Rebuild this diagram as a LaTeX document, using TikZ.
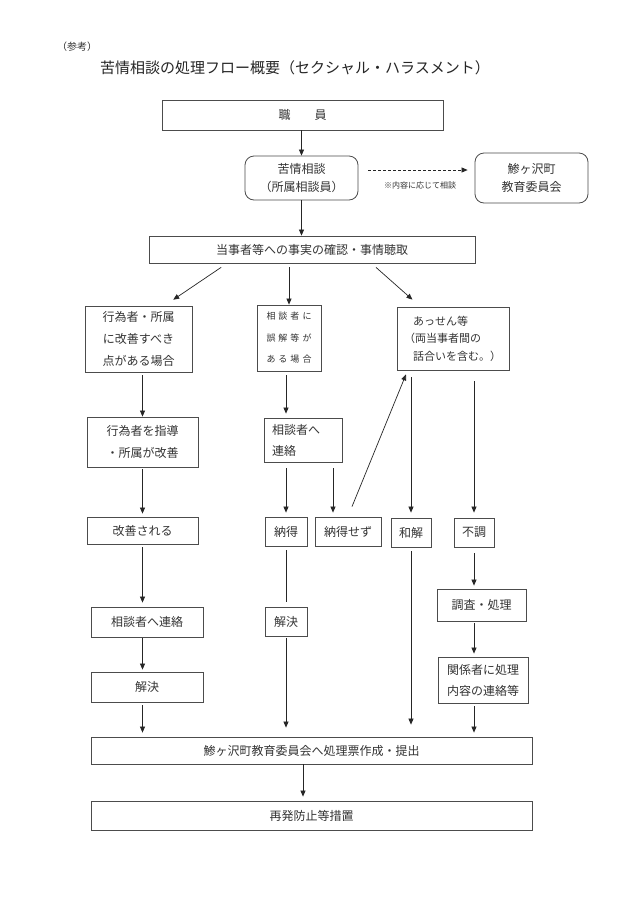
\documentclass[tikz,border=0pt]{standalone}
\usepackage{fontspec}
\setmainfont{Noto Sans CJK JP}
\usetikzlibrary{arrows.meta,calc}
\tikzset{
  box/.style={draw=black!70, line width=0.8pt, rectangle, inner sep=0pt, align=center,
    font=\fontsize{12}{21.5}\selectfont, text=black!80},
  rbox/.style={box, rounded corners=9pt},
  arr/.style={-{Triangle[length=6pt,width=5pt]}, line width=0.7pt, draw=black!85},
  ln/.style={line width=0.7pt, draw=black!85},
}
\newcommand{\ls}{\kern3pt}
\begin{document}
\begin{tikzpicture}[x=1pt,y=-1pt]
\useasboundingbox (0,0) rectangle (630,903);
\fill[white] (0,0) rectangle (630,903);

\node[font=\fontsize{10}{12}\selectfont, text=black!80] (sanko) at (77,47) {（参考）};
\node[font=\fontsize{15}{18}\selectfont, text=black!85] (title) at (295,68) {苦情相談の処理フロー概要（セクシャル・ハラスメント）};

\node[box, minimum width=281pt, minimum height=30pt] (shokuin) at (302.5,115) {職　　員};
\node[rbox, minimum width=113pt, minimum height=44pt, font=\fontsize{12}{18}\selectfont] (kujo) at (301.5,178) {苦情相談\\（所属相談員）};
\node[rbox, minimum width=113pt, minimum height=50pt, font=\fontsize{12}{18}\selectfont] (kyoiku) at (531.5,178) {鯵ヶ沢町\\教育委員会};
\node[font=\fontsize{8}{10}\selectfont, text=black!80] (note) at (420,185) {※内容に応じて相談};

\node[box, minimum width=326pt, minimum height=27pt] (jijitsu) at (312,249.5) {当事者等への事実の確認・事情聴取};

\node[box, minimum width=107pt, minimum height=66pt, font=\fontsize{12}{21.7}\selectfont] (a1) at (138.5,339) {行為者・所属\\に改善すべき\\点がある場合};
\node[box, minimum width=64pt, minimum height=66pt, font=\fontsize{9}{21.5}\selectfont] (b1) at (289,338) {相\ls 談\ls 者\ls に\\誤\ls 解\ls 等\ls が\\あ\ls る\ls 場\ls 合};
\node[box, minimum width=112pt, minimum height=63pt, text width=104pt, align=left, font=\fontsize{11}{17.5}\selectfont] (c1) at (453,338.5) {\hspace*{12pt}あっせん等\\\hspace*{3pt}（両当事者間の\\\hspace*{12pt}話合いを含む。）};

\node[box, minimum width=111pt, minimum height=50pt, font=\fontsize{12}{22}\selectfont] (a2) at (142.5,442) {行為者を指導\\・所属が改善};
\node[box, minimum width=78pt, minimum height=44pt, text width=62pt, align=left, font=\fontsize{12}{21}\selectfont] (b2) at (303,440) {相談者へ\\連絡};

\node[box, minimum width=111pt, minimum height=27pt] (a3) at (142.5,530.5) {改善される};
\node[box, minimum width=42pt, minimum height=29pt] (nattoku) at (286,531.5) {納得};
\node[box, minimum width=66pt, minimum height=29pt] (sezu) at (348,531.5) {納得せず};
\node[box, minimum width=40pt, minimum height=29pt] (wakai) at (411,532.5) {和解};
\node[box, minimum width=40pt, minimum height=29pt] (fucho) at (474,532.5) {不調};

\node[box, minimum width=112pt, minimum height=30pt] (a4) at (147,622) {相談者へ連絡};
\node[box, minimum width=112pt, minimum height=30pt] (a5) at (147,687) {解決};
\node[box, minimum width=42pt, minimum height=29pt] (b3) at (286,621.5) {解決};
\node[box, minimum width=89pt, minimum height=32pt] (chosa) at (481.5,605) {調査・処理};
\node[box, minimum width=90pt, minimum height=46pt, font=\fontsize{12}{21}\selectfont] (kankei) at (483,680) {関係者に処理\\内容の連絡等};

\node[box, minimum width=441pt, minimum height=27pt] (final) at (311.5,750.5) {鯵ヶ沢町教育委員会へ処理票作成・提出};
\node[box, minimum width=441pt, minimum height=29pt] (saihatsu) at (311.5,815.5) {再発防止等措置};

% connectors
\draw[arr] (kujo.north |- shokuin.south) -- (kujo.north);
\draw[arr, dashed, dash pattern=on 3pt off 2pt, shorten <=10pt, shorten >=7pt] ([yshift=8pt]kujo.east) -- ([yshift=8pt]kyoiku.west);
\draw[arr] (kujo.south) -- (kujo.south |- jijitsu.north);

\draw[arr, shorten <=7pt, shorten >=10.5pt] ([xshift=-85pt]jijitsu.south) -- ([xshift=26pt]a1.north);
\draw[arr, shorten <=4pt] (b1.north |- jijitsu.south) -- (b1.north);
\draw[arr, shorten <=6pt, shorten >=10.5pt] ([xshift=59.5pt]jijitsu.south) -- ([xshift=-32.7pt]c1.north);

\draw[arr, shorten <=3pt] (a2.north |- a1.south) -- (a2.north);
\draw[arr, shorten <=2pt, shorten >=3pt] (a2.south) -- (a3.north);
\draw[arr, shorten <=3pt, shorten >=4pt] (a3.south) -- (a3.south |- a4.north);
\draw[arr, shorten <=1pt, shorten >=2pt] (a4.south -| a3.south) -- (a5.north -| a3.south);
\draw[arr, shorten <=3pt, shorten >=4pt] (a5.south -| a3.south) -- (final.north -| a3.south);

\draw[arr, shorten <=4pt, shorten >=4pt] (b1.south -| nattoku.north) -- (b2.north -| nattoku.north);
\draw[arr, shorten <=6pt, shorten >=4pt] (b2.south -| nattoku.north) -- (nattoku.north);
\draw[arr, shorten <=6pt, shorten >=4pt] ([xshift=-15pt]sezu.north |- b2.south) -- ([xshift=-15pt]sezu.north);
\draw[arr] ([xshift=4pt,yshift=10pt]sezu.north) -- ([xshift=-47pt,yshift=-4pt]c1.south);
\draw[ln, shorten <=4pt, shorten >=5pt] (nattoku.south) -- (b3.north);
\draw[arr, shorten <=2pt, shorten >=9pt] (b3.south) -- (b3.south |- final.north);

\draw[arr, shorten <=7pt, shorten >=5pt] (c1.south -| wakai.north) -- (wakai.north);
\draw[arr, shorten <=4pt, shorten >=12pt] (wakai.south) -- (wakai.south |- final.north);

\draw[arr, shorten <=11pt, shorten >=5pt] (c1.south -| fucho.north) -- (fucho.north);
\draw[arr, shorten <=6pt, shorten >=3pt] (fucho.south) -- (fucho.south |- chosa.north);
\draw[arr, shorten <=2pt, shorten >=3pt] (fucho.south |- chosa.south) -- (fucho.south |- kankei.north);
\draw[arr, shorten <=3pt, shorten >=4pt] (fucho.south |- kankei.south) -- (fucho.south |- final.north);

\draw[arr, shorten >=4pt] ([xshift=-8.5pt]final.south) -- ([xshift=-8.5pt]saihatsu.north);
\end{tikzpicture}
\end{document}
